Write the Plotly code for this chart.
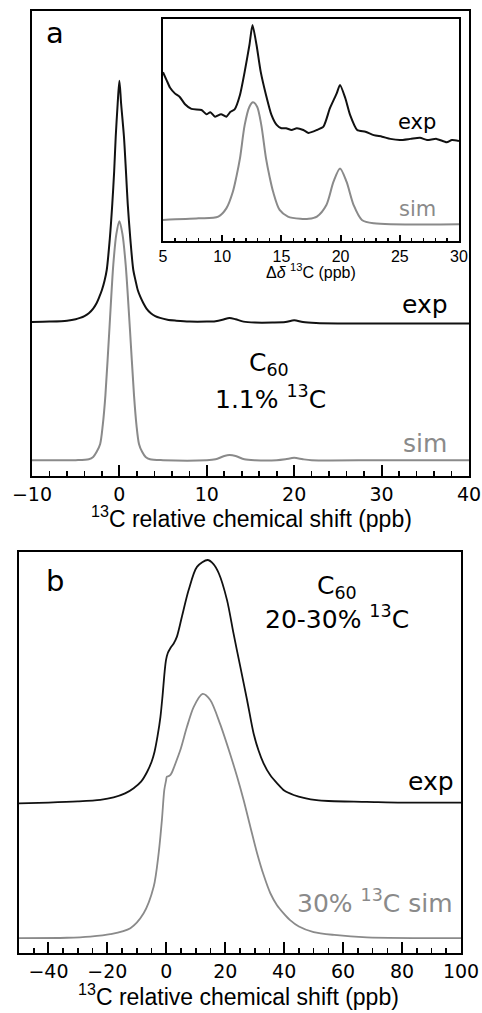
import plotly.graph_objects as go

W, H = 482, 1013

# ---------------- data ----------------
# Panel a, main spectrum (ppb, normalised intensity)
a_exp_x = [-10, -8, -6, -5, -4.5, -4, -3.5, -3, -2.6, -2.3, -2.0, -1.7, -1.45, -1.1, -0.81, -0.6, -0.42, -0.2, 0,
           0.2, 0.52, 0.75, 0.95, 1.25, 1.59, 1.85, 2.1, 2.4, 2.73, 3.1, 3.6, 4.1, 4.65, 5.5, 6.5, 8, 10, 11, 11.8,
           12.6, 13.3, 14.2, 15.5, 17.5, 19.0, 20.0, 21.0, 22.5, 25, 30, 35, 40]
a_exp_y = [0.331, 0.332, 0.334, 0.337, 0.340, 0.344, 0.350, 0.360, 0.372, 0.385, 0.400, 0.420, 0.443, 0.51, 0.586,
           0.655, 0.730, 0.80, 0.850, 0.80, 0.730, 0.655, 0.586, 0.51, 0.443, 0.420, 0.400, 0.385, 0.372, 0.360,
           0.350, 0.344, 0.340, 0.336, 0.334, 0.332, 0.332, 0.333, 0.336, 0.340, 0.337, 0.332, 0.330, 0.330, 0.331,
           0.335, 0.331, 0.329, 0.328, 0.328, 0.328, 0.328]
a_sim_x = [-10, -5, -3.5, -3.0, -2.6, -2.2, -1.9, -1.6, -1.15, -0.7, -0.35, 0, 0.35, 0.72, 1.21, 1.67, 1.95, 2.24,
           2.6, 3.0, 3.5, 5, 10, 11, 12, 12.6, 13.3, 14.3, 15.5, 18, 19, 20, 21, 22, 30, 40]
a_sim_y = [0.034, 0.034, 0.036, 0.041, 0.052, 0.069, 0.11, 0.174, 0.314, 0.454, 0.52, 0.548, 0.52, 0.454, 0.314,
           0.174, 0.11, 0.069, 0.052, 0.041, 0.036, 0.034, 0.034, 0.036, 0.043, 0.045, 0.043, 0.036, 0.034, 0.034,
           0.036, 0.039, 0.036, 0.034, 0.034, 0.034]

# Panel a, inset (zoom on satellites)
in_exp_x = [5.0, 5.3, 5.6, 6.0, 6.4, 6.86, 7.4, 8.25, 8.67, 9.0, 9.4, 9.9, 10.35, 10.7, 11.05, 11.5, 11.9, 12.3,
            12.56, 12.9, 13.25, 13.7, 14.16, 14.6, 15.0, 15.4, 15.86, 16.3, 16.85, 17.3, 18.0, 18.55, 19.1, 19.67,
            19.95, 20.4, 20.8, 21.4, 22.1, 22.8, 23.5, 24.2, 25.0, 25.9, 26.7, 27.3, 28.1, 28.96, 29.4, 30.0]
in_exp_y = [0.760, 0.725, 0.69, 0.665, 0.65, 0.616, 0.595, 0.59, 0.571, 0.58, 0.56, 0.571, 0.56, 0.582, 0.593,
            0.658, 0.763, 0.883, 0.973, 0.883, 0.763, 0.658, 0.568, 0.523, 0.508, 0.508, 0.5, 0.508, 0.5, 0.487,
            0.5, 0.515, 0.598, 0.665, 0.703, 0.643, 0.568, 0.5, 0.492, 0.477, 0.47, 0.46, 0.455, 0.46, 0.465,
            0.455, 0.46, 0.445, 0.455, 0.45]
in_sim_x = [5.0, 8.0, 9.67, 10.35, 10.9, 11.2, 11.5, 11.9, 12.3, 12.6, 12.95, 13.3, 13.7, 14.0, 14.3, 14.85, 15.55,
            16.6, 17.3, 18.0, 18.8, 19.4, 19.95, 20.5, 21.1, 21.8, 22.8, 30.0]
in_sim_y = [0.095, 0.102, 0.11, 0.147, 0.222, 0.29, 0.372, 0.523, 0.605, 0.625, 0.605, 0.523, 0.372, 0.29, 0.222,
            0.14, 0.11, 0.1, 0.1, 0.11, 0.162, 0.267, 0.327, 0.267, 0.162, 0.095, 0.08, 0.075]

# Panel b
b_exp_x = [-50, -40, -30, -22.4, -17.9, -14, -11.1, -8.5, -6.5, -5.0, -4.0, -3.0, -2.0, -1.3, -0.6, -0.1, 0.5, 1.36,
           2.5, 3.6, 5.3, 7.57, 10.4, 14.0, 16.0, 17.8, 20.6, 22.8, 25.1, 27.4, 29.6, 31.3, 33.0, 35.3, 37.6, 40.0,
           43.2, 47, 51, 55, 68, 80, 100]
b_exp_y = [0.373, 0.375, 0.378, 0.382, 0.388, 0.398, 0.411, 0.428, 0.452, 0.477, 0.502, 0.54, 0.589, 0.64, 0.70,
           0.731, 0.748, 0.76, 0.772, 0.789, 0.839, 0.905, 0.963, 0.98, 0.97, 0.947, 0.88, 0.797, 0.714, 0.631,
           0.548, 0.505, 0.473, 0.443, 0.423, 0.405, 0.394, 0.386, 0.381, 0.379, 0.377, 0.375, 0.375]
b_sim_x = [-50, -33.7, -25.8, -19, -12.2, -7.7, -4.3, -2.6, -1.5, -0.7, -0.1, 0.2, 0.8, 1.4, 2.0, 2.7, 4.75, 7.0,
           9.3, 12.3, 14.9, 18.3, 21.7, 24.0, 26.2, 28.5, 30.8, 33.0, 35.3, 37.5, 39.8, 42, 45, 50, 57, 68, 100]
b_sim_y = [0.037, 0.038, 0.041, 0.047, 0.062, 0.099, 0.165, 0.249, 0.332, 0.406, 0.43, 0.44, 0.441, 0.444, 0.452,
           0.465, 0.506, 0.564, 0.614, 0.646, 0.631, 0.57, 0.495, 0.44, 0.382, 0.315, 0.249, 0.195, 0.149, 0.12,
           0.099, 0.082, 0.066, 0.052, 0.045, 0.039, 0.037]

# axis ranges
a_range = [-10, 40]
in_range = [5, 30]
b_range = [-50, 100]

BLACK = "#111111"
GREY = "#8a8a8a"
TICKFONT = "DejaVu Sans"
TITLEFONT = "Liberation Sans"


def fx(px):
    return px / W


def fy(py):
    return 1 - py / H


fig = go.Figure()
fig.add_trace(go.Scatter(x=a_exp_x, y=a_exp_y, mode="lines", line=dict(color=BLACK, width=2, shape="spline", smoothing=0.8),
                         xaxis="x", yaxis="y", showlegend=False))
fig.add_trace(go.Scatter(x=a_sim_x, y=a_sim_y, mode="lines", line=dict(color=GREY, width=2, shape="spline", smoothing=0.8),
                         xaxis="x", yaxis="y", showlegend=False))
fig.add_trace(go.Scatter(x=in_exp_x, y=in_exp_y, mode="lines", line=dict(color=BLACK, width=2, shape="spline", smoothing=0.6),
                         xaxis="x2", yaxis="y2", showlegend=False))
fig.add_trace(go.Scatter(x=in_sim_x, y=in_sim_y, mode="lines", line=dict(color=GREY, width=2, shape="spline", smoothing=0.8),
                         xaxis="x2", yaxis="y2", showlegend=False))
fig.add_trace(go.Scatter(x=b_exp_x, y=b_exp_y, mode="lines", line=dict(color=BLACK, width=1.8, shape="spline", smoothing=0.8),
                         xaxis="x3", yaxis="y3", showlegend=False))
fig.add_trace(go.Scatter(x=b_sim_x, y=b_sim_y, mode="lines", line=dict(color=GREY, width=1.8, shape="spline", smoothing=0.8),
                         xaxis="x3", yaxis="y3", showlegend=False))


def xax(domain, rng, dtick, mdtick, tfsize, ticklen, mlen, anchor, lw=2):
    return dict(domain=domain, range=rng, anchor=anchor, tickmode="linear", tick0=0, dtick=dtick,
                ticks="inside", ticklen=ticklen, tickwidth=lw, tickcolor="black",
                minor=dict(ticks="inside", dtick=mdtick, tick0=0, ticklen=mlen, tickwidth=lw * 0.8,
                           tickcolor="black", showgrid=False),
                showline=True, linecolor="black", linewidth=lw, mirror=True, showgrid=False, zeroline=False,
                tickfont=dict(family=TICKFONT, size=tfsize, color="black"), automargin=False,
                fixedrange=True)


def yax(domain, anchor, lw=2):
    return dict(domain=domain, range=[0, 1], anchor=anchor, showline=True, linecolor="black", linewidth=lw,
                mirror=True, showgrid=False, zeroline=False, showticklabels=False, ticks="", fixedrange=True,
                automargin=False)


fig.update_layout(
    width=W, height=H, autosize=False,
    margin=dict(l=0, r=0, t=0, b=0, pad=0),
    paper_bgcolor="white", plot_bgcolor="white",
    xaxis=xax([fx(32), fx(469)], a_range, 10, 2, 19, 11, 5, "y"),
    yaxis=yax([fy(476), fy(11)], "x"),
    xaxis2=dict(xax([fx(163), fx(459)], in_range, 5, 1, 15, 6, 3, "y2", lw=1.8),
                tickfont=dict(family=TITLEFONT, size=16, color="black")),
    yaxis2=yax([fy(241), fy(19)], "x2", lw=1.8),
    xaxis3=xax([fx(19), fx(461)], b_range, 20, 5, 19, 11, 5, "y3"),
    yaxis3=yax([fy(953), fy(552)], "x3"),
)

BIG = dict(family="DejaVu Sans", size=25, color="black")
BIGG = dict(family="DejaVu Sans", size=25, color=GREY)
INS = dict(family="DejaVu Sans", size=21, color="black")
INSG = dict(family="DejaVu Sans", size=21, color=GREY)
TTL = dict(family=TITLEFONT, size=23, color="black")
TTLS = dict(family=TITLEFONT, size=16, color="black")
title_main = "<sup>13</sup>C relative chemical shift (ppb)"

anns = [
    ("a", 55, 33, dict(family="DejaVu Sans", size=29, color="black")),
    ("exp", 417, 122, INS),
    ("sim", 417, 209, INSG),
    ("Δ<i>δ</i> <sup>13</sup>C (ppb)", 311, 271, TTLS),
    ("exp", 425, 304, BIG),
    ("sim", 425, 443, BIGG),
    ("C<sub>60</sub>", 269, 364, BIG),
    ("1.1% <sup>13</sup>C", 270, 397, BIG),
    (title_main, 251, 517, TTL),
    ("b", 55, 581, dict(family="DejaVu Sans", size=29, color="black")),
    ("C<sub>60</sub>", 337, 587, BIG),
    ("20-30% <sup>13</sup>C", 337, 617, BIG),
    ("exp", 431, 781, BIG),
    ("30% <sup>13</sup>C sim", 375, 901, BIGG),
    (title_main, 238, 995, TTL),
]
for text, x, y, font in anns:
    fig.add_annotation(text=text, x=fx(x), y=fy(y), xref="paper", yref="paper", showarrow=False,
                       xanchor="center", yanchor="middle", font=font)

fig.write_html("out.html", config={"displayModeBar": False, "staticPlot": True},
               post_script="document.body.style.margin='0';document.body.style.padding='0';"
                           "document.body.style.overflow='hidden';")
